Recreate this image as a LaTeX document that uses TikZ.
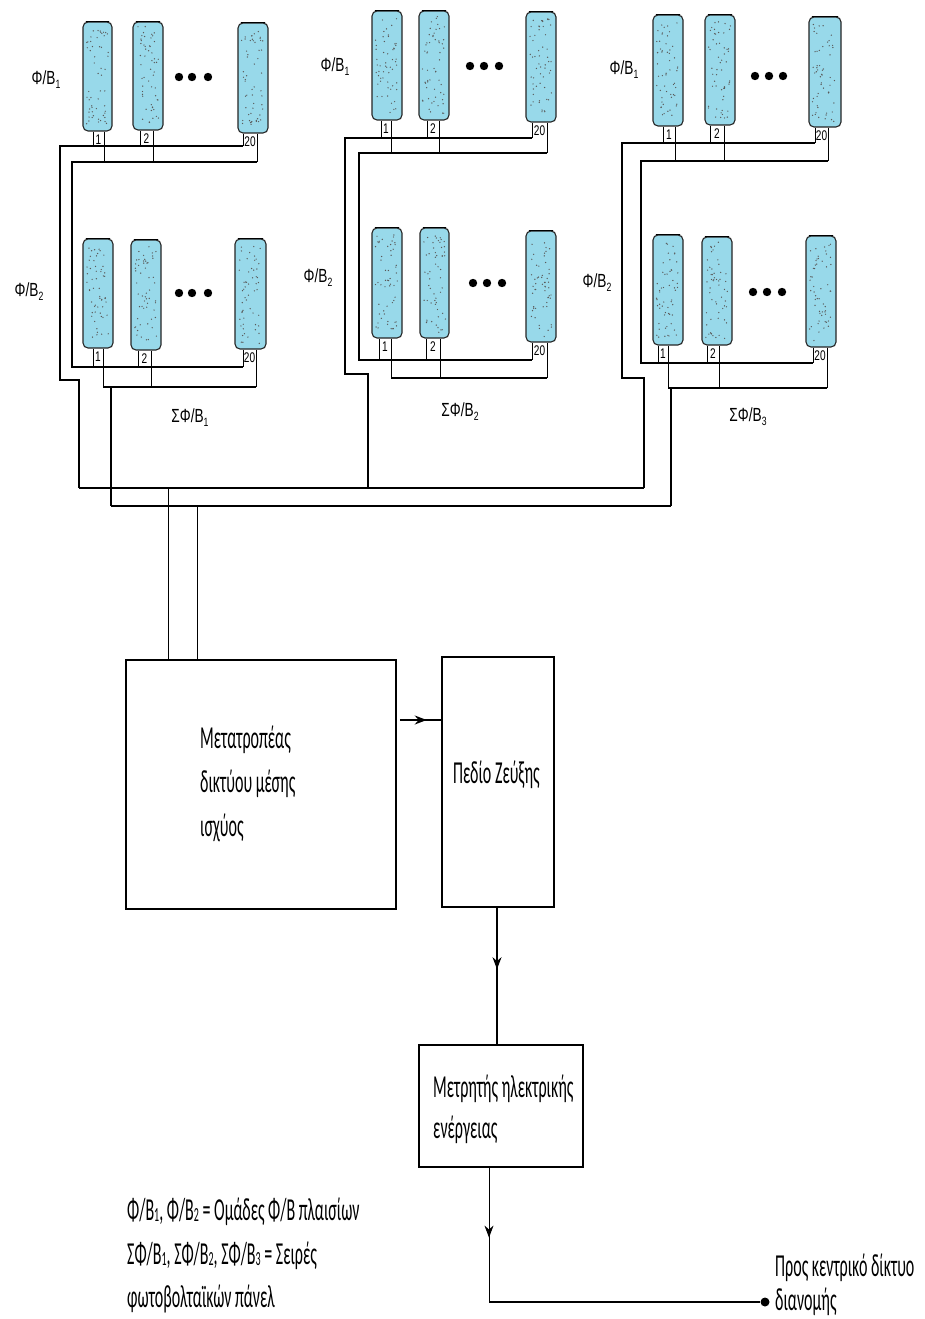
\documentclass[tikz,border=0pt]{standalone}
\usepackage{fontspec}
\usetikzlibrary{fit,arrows.meta,decorations.markings}
\newfontfamily\calib[FakeStretch=0.5]{Carlito}
\newfontfamily\arl[FakeStretch=0.72]{Liberation Sans}
\definecolor{pvblue}{RGB}{152,217,234}

% small index digits
\newcommand\psub[1]{\raisebox{-4pt}{\fontsize{12}{12}\selectfont #1}}
\newcommand\lsub[1]{\raisebox{-1pt}{\fontsize{20}{20}\selectfont #1}}

% one PV module: name, x1, y1, x2, y2
\newcommand\pvpanel[5]{%
  \node[pvpanel, fit={(#2,#3) (#4,#5)}] (#1) {};
  \draw[line width=1.8pt, line cap=round] ([xshift=4pt]#1.north west) -- ([xshift=-4pt]#1.north east);
  \foreach \k in {1,...,55}{%
    \pgfmathsetmacro\rx{4+rnd*22}%
    \pgfmathsetmacro\ry{6+rnd*98}%
    \fill[speck] ([shift={(\rx,-\ry)}]#1.south west) circle (0.7pt);}%
}
% the two leads of a module: module, x left, x right, y left bus, y right bus, number
\newcommand\pvleads[6]{%
  \draw[lead] (#1.south -| #2,0) -- (#2,#4);
  \draw[lead] (#1.south -| #3,0) -- (#3,#5);
  \pgfmathsetmacro\mx{(#2+#3)/2}%
  \node[numlabel, yshift=-8pt] (#1n) at (#1.south -| \mx,0) {#6};
}
% three dots between modules
\newcommand\pvdots[4]{%
  \fill (#1,#4) circle (4.2pt);
  \fill (#2,#4) circle (4.2pt);
  \fill (#3,#4) circle (4.2pt);
}

\tikzset{
  pvpanel/.style={draw=black!85, line width=1.1pt, fill=pvblue,
    rounded corners=5pt, inner sep=0pt},
  speck/.style={black!65},
  lead/.style={line width=0.9pt},
  bus/.style={line width=1.6pt},
  mainbus/.style={line width=1.4pt},
  block/.style={draw, line width=1.5pt, inner sep=0pt},
  numlabel/.style={font=\arl\fontsize{14}{14}\selectfont, inner sep=0pt},
  grplabel/.style={font=\arl\fontsize{19}{19}\selectfont, inner sep=0pt},
  txt/.style={font=\calib\fontsize{32}{44}\selectfont, inner sep=0pt, anchor=base west},
  midarrow/.style={postaction={decorate}, decoration={markings,
    mark=at position #1 with {\arrow{Stealth[length=12pt,width=9pt]}}}},
}

\begin{document}
\begin{tikzpicture}[x=1pt,y=-1pt]
\pgfmathsetseed{17}
\useasboundingbox (0,0) rectangle (925,1319);
\fill[white] (0,0) rectangle (925,1319);

% ---------------- first array ----------------
\pvpanel{ga1}{83}{22}{112}{131}
\pvpanel{ga2}{133}{22}{163}{130}
\pvpanel{ga20}{238}{23}{268}{133}
\pvdots{179}{192}{208}{77}
\pvleads{ga1}{93}{104}{146}{162}{1}
\pvleads{ga2}{140}{153}{146}{162}{2}
\pvleads{ga20}{243}{257}{146}{162}{20}

\pvpanel{gb1}{83}{239}{113}{348}
\pvpanel{gb2}{131}{240}{161}{350}
\pvpanel{gb20}{235}{239}{266}{349}
\pvdots{179}{192}{208}{293}
\pvleads{gb1}{93}{103}{367}{387}{1}
\pvleads{gb2}{138}{151}{367}{387}{2}
\pvleads{gb20}{243}{256}{367}{387}{20}

\draw[bus] (243,146) -- (60,146) -- (60,380) -- (79,380) -- (79,488);
\draw[bus] (257,162) -- (72,162) -- (72,367) -- (243,367);
\draw[bus] (103,387) -- (256,387);
\draw[bus] (111,387) -- (111,506);

\node[grplabel] (la1) at (46,80) {Φ/B\psub{1}};
\node[grplabel] (la2) at (29,292) {Φ/B\psub{2}};
\node[grplabel] (sa) at (190,418) {ΣΦ/B\psub{1}};

% ---------------- second array ----------------
\pvpanel{ha1}{372}{11}{402}{120}
\pvpanel{ha2}{419}{11}{449}{120}
\pvpanel{ha20}{526}{12}{556}{122}
\pvdots{470}{484}{499}{66}
\pvleads{ha1}{381}{391}{138}{153}{1}
\pvleads{ha2}{427}{439}{138}{153}{2}
\pvleads{ha20}{532}{547}{138}{153}{20}

\pvpanel{hb1}{372}{228}{402}{338}
\pvpanel{hb2}{420}{228}{449}{338}
\pvpanel{hb20}{526}{231}{556}{342}
\pvdots{473}{487}{502}{283}
\pvleads{hb1}{379}{391}{360}{378}{1}
\pvleads{hb2}{426}{440}{360}{378}{2}
\pvleads{hb20}{532}{547}{360}{378}{20}

\draw[bus] (532,138) -- (345,138) -- (345,374) -- (368,374) -- (368,488);
\draw[bus] (547,153) -- (359,153) -- (359,360) -- (532,360);
\draw[bus] (391,378) -- (547,378);

\node[grplabel] (lb1) at (335,67) {Φ/B\psub{1}};
\node[grplabel] (lb2) at (318,278) {Φ/B\psub{2}};
\node[grplabel] (sb) at (460,412) {ΣΦ/B\psub{2}};

% ---------------- third array ----------------
\pvpanel{ka1}{653}{15}{683}{126}
\pvpanel{ka2}{705}{15}{735}{125}
\pvpanel{ka20}{809}{17}{841}{127}
\pvdots{755}{769}{783}{76}
\pvleads{ka1}{663}{675}{143}{161}{1}
\pvleads{ka2}{710}{724}{143}{161}{2}
\pvleads{ka20}{815}{828}{143}{161}{20}

\pvpanel{kb1}{653}{235}{683}{345}
\pvpanel{kb2}{702}{237}{732}{345}
\pvpanel{kb20}{806}{236}{836}{347}
\pvdots{753}{767}{782}{292}
\pvleads{kb1}{658}{668}{363}{388}{1}
\pvleads{kb2}{707}{719}{363}{388}{2}
\pvleads{kb20}{813}{827}{363}{388}{20}

\draw[bus] (815,143) -- (622,143) -- (622,378) -- (644,378) -- (644,488);
\draw[bus] (828,161) -- (641,161) -- (641,363) -- (813,363);
\draw[bus] (668,388) -- (827,388);
\draw[bus] (671,388) -- (671,506);

\node[grplabel] (lc1) at (624,70) {Φ/B\psub{1}};
\node[grplabel] (lc2) at (597,283) {Φ/B\psub{2}};
\node[grplabel] (sc) at (748,417) {ΣΦ/B\psub{3}};

% ---------------- collecting lines ----------------
\draw[mainbus] (79,488) -- (644,488);
\draw[mainbus] (111,506) -- (671,506);
\coordinate (m1) at (168,488);
\coordinate (m2) at (197,506);

% ---------------- converter, switchgear, meter ----------------
\node[block, fit={(126,660) (396,909)}] (conv) {};
\node[block, fit={(442,657) (554,907)}] (pedio) {};
\node[block, fit={(419,1045) (583,1167)}] (meter) {};

\draw[line width=1pt] (m1) -- (m1 |- conv.north);
\draw[line width=1pt] (m2) -- (m2 |- conv.north);

\node[txt] (c1) at (200,748) {Μετατροπέας};
\node[txt] (c2) at (200,792) {δικτύου μέσης};
\node[txt] (c3) at (200,836) {ισχύος};
\node[txt] (p1) at (453,783) {Πεδίο Ζεύξης};
\node[txt] (e1) at (433,1097) {Μετρητής ηλεκτρικής};
\node[txt] (e2) at (433,1138) {ενέργειας};

\draw[line width=1.6pt, midarrow=0.65] ([xshift=3pt]conv.east |- 0,720) -- (pedio.west |- 0,720);
\draw[line width=1.3pt, midarrow=0.45] (pedio.south -| 497,0) -- (meter.north -| 497,0);
\coordinate (turn) at (489,1302);
\node[circle, fill, inner sep=0pt, minimum size=9pt] (grid) at (765,1302) {};
\draw[line width=1pt, midarrow=0.52] (meter.south -| 489,0) -- (turn);
\draw[line width=2.2pt] (turn) -- (grid);

\node[txt] (g1) at (775,1276) {Προς κεντρικό δίκτυο};
\node[txt] (g2) at (775,1310) {διανομής};

% ---------------- legend ----------------
\node[txt] (k1) at (127,1220) {Φ/B\lsub{1}, Φ/B\lsub{2} = Ομάδες Φ/B πλαισίων};
\node[txt] (k2) at (127,1264) {ΣΦ/B\lsub{1}, ΣΦ/B\lsub{2}, ΣΦ/B\lsub{3} = Σειρές};
\node[txt] (k3) at (127,1307) {φωτοβολταϊκών πάνελ};
\end{tikzpicture}
\end{document}
